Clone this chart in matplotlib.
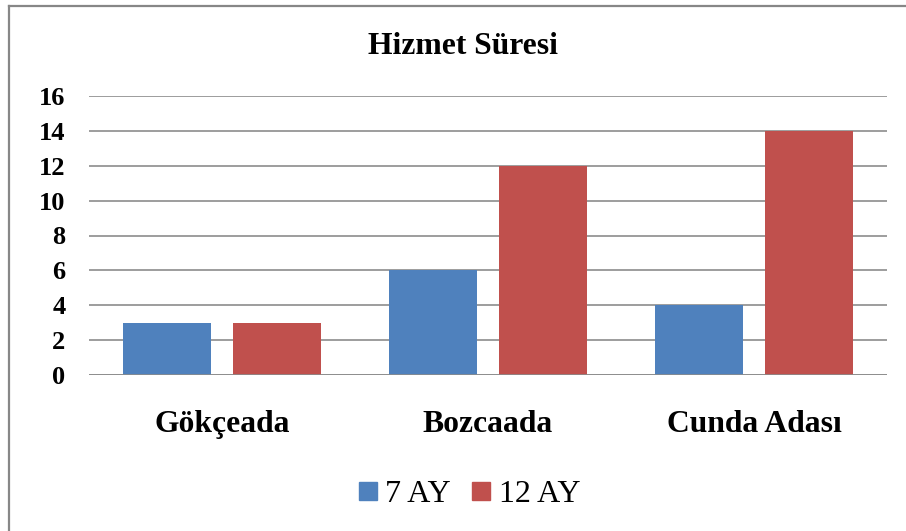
import numpy as np
import matplotlib.pyplot as plt
from matplotlib.lines import Line2D

categories = ['Gökçeada', 'Bozcaada', 'Cunda Adası']
series_names = ['7 AY', '12 AY']
values_7ay = [3, 6, 4]
values_12ay = [3, 12, 14]
yticks = [0, 2, 4, 6, 8, 10, 12, 14, 16]

plt.rcParams['font.family'] = ['Liberation Serif', 'DejaVu Serif']

W, H = 906, 531
fig = plt.figure(figsize=(W / 100, H / 100), dpi=100)

# plot area in pixels: x 89..887, y 96..375
ax = fig.add_axes([89 / W, 1 - 375 / H, (887 - 89) / W, (375 - 96) / H])

x = np.arange(len(categories))
width = 0.331
off = 0.207
ax.bar(x - off, values_7ay, width, color='#4F81BD', label=series_names[0], zorder=3)
ax.bar(x + off, values_12ay, width, color='#C0504D', label=series_names[1], zorder=3)

ax.set_xlim(-0.5, 2.5)
ax.set_ylim(0, 16)
ax.set_yticks(yticks)
ax.set_yticklabels([str(v) for v in yticks], fontsize=19, fontweight='bold')
ax.set_xticks(x)
ax.set_xticklabels(categories, fontsize=22.8, fontweight='bold')
ax.tick_params(axis='both', length=0)
ax.tick_params(axis='y', pad=17)
ax.tick_params(axis='x', pad=25)
ax.yaxis.grid(True, color='#8c8c8c', linewidth=1.2, zorder=0)
for s in ax.spines.values():
    s.set_visible(False)
ax.axhline(0, color='#8c8c8c', linewidth=1.2, zorder=4)

fig.text(463 / W, 1 - 46 / H, 'Hizmet Süresi', ha='center', va='center',
         fontsize=22.8, fontweight='bold')

handles = [Line2D([], [], marker='s', linestyle='none', markersize=12.5, color=c)
           for c in ['#4F81BD', '#C0504D']]
fig.legend(handles, series_names, loc='center', bbox_to_anchor=(466 / W, 1 - 494 / H),
           ncol=2, frameon=False, fontsize=23, handletextpad=0.05,
           columnspacing=0.45, handlelength=1.0)

# outer chart border (only left and top edges visible)
fig.add_artist(Line2D([9 / W, 9 / W], [0, 1 - 6 / H], transform=fig.transFigure,
                      color='#878787', linewidth=1.6))
fig.add_artist(Line2D([9 / W, 1], [1 - 6 / H, 1 - 6 / H], transform=fig.transFigure,
                      color='#878787', linewidth=1.6))

fig.savefig('out.png', dpi=100)
